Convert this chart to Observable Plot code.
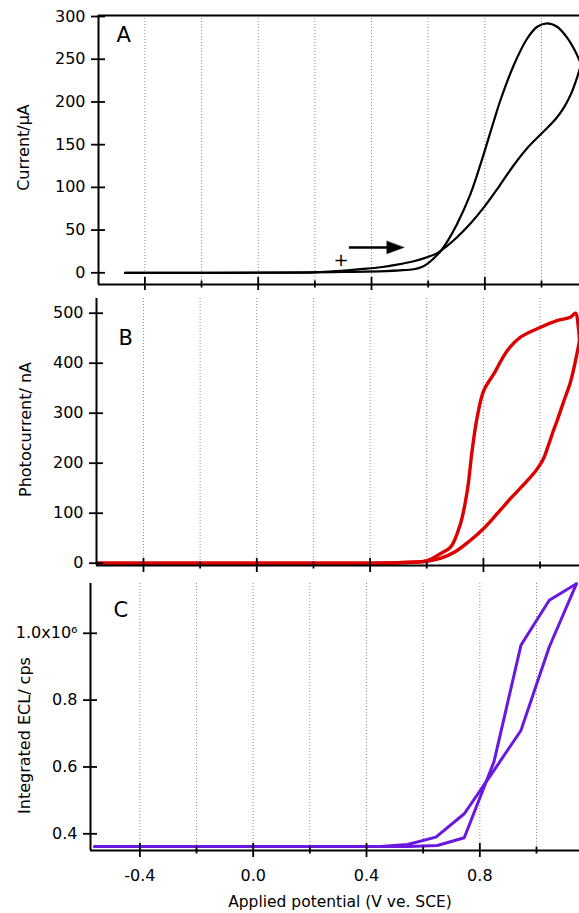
<!DOCTYPE html>
<html><head><meta charset="utf-8">
<script src="https://cdn.jsdelivr.net/npm/d3@7"></script>
<script src="https://cdn.jsdelivr.net/npm/@observablehq/plot@0.6"></script>
<style>
body{margin:0;background:#fff;}
#chart{position:relative;width:579px;height:913px;overflow:hidden;background:#fff;}
#chart svg{position:absolute;left:0;overflow:hidden;}
</style></head><body><div id="chart"></div>
<script>
// ---- tick values & labels ----
const xMajorTicks = [-0.4, 0.0, 0.4, 0.8];
const xTickLabels = ["-0.4", "0.0", "0.4", "0.8"];
const xMinorTicks = [-0.2, 0.2, 0.6, 1.0];
const xGrid = [-0.4, -0.2, 0.0, 0.2, 0.4, 0.6, 0.8, 1.0];
const currentTicks = [0, 50, 100, 150, 200, 250, 300];
const photoTicks = [0, 100, 200, 300, 400, 500];
const eclTicks = [0.4, 0.6, 0.8, 1.0];
const eclTickLabels = ["0.4", "0.6", "0.8", "1.0x10⁶"];

// ---- Panel A: cyclic voltammogram (V, µA) ----
const cvForward = [[-0.47,0],[0.1,0.2],[0.3,1],[0.45,2],[0.5,2.8],[0.549,4.2],[0.575,6.5],[0.597,10.5],[0.62,17],[0.643,25],[0.67,38],[0.702,57],[0.749,92],[0.796,139],[0.832,178],[0.855,202],[0.902,243],[0.949,274],[0.985,288],[1.02,292],[1.055,288],[1.091,275],[1.115,262],[1.14,244]];
const cvReverse = [[1.14,244],[1.125,228],[1.105,210],[1.08,194],[1.05,180],[1.0,163],[0.95,146],[0.9,125],[0.85,101],[0.8,78],[0.75,58],[0.7,41],[0.665,31],[0.632,23],[0.59,17.5],[0.549,13.5],[0.49,9.5],[0.432,6.5],[0.37,4.5],[0.314,3],[0.25,1.5],[0.195,0.6],[0.1,0.1],[-0.47,0]];
const scanArrow = [{x1: 0.320, x2: 0.514, y: 29.6}];
const scanStart = [{x: 0.292, y: 14.6, label: "+"}];

// ---- Panel B: photocurrent (V, nA) ----
const photoForward = [[-0.563,0],[0.3,0],[0.5,1],[0.601,5],[0.648,19],[0.684,32],[0.719,79],[0.743,145],[0.76,225],[0.778,292],[0.801,345],[0.837,379],[0.884,425],[0.931,452],[1.002,472],[1.06,485],[1.107,492],[1.125,500],[1.135,472],[1.139,445]];
const photoReverse = [[1.139,445],[1.125,405],[1.107,362],[1.083,323],[1.06,285],[1.045,262],[1.03,237],[1.015,213],[1.0,197],[0.985,185],[0.95,162],[0.9,132],[0.85,100],[0.8,69],[0.75,44],[0.7,23],[0.65,10],[0.6,4],[0.5,1],[0.3,0],[-0.563,0]];

// ---- Panel C: integrated ECL (V, 10^6 cps) ----
const eclForward = [[-0.56,0.362],[0.55,0.362],[0.65,0.365],[0.745,0.388],[0.85,0.616],[0.945,0.964],[1.045,1.099],[1.141,1.148]];
const eclReverse = [[1.141,1.148],[1.045,0.959],[0.945,0.709],[0.85,0.59],[0.745,0.46],[0.645,0.39],[0.545,0.368],[0.45,0.362],[-0.56,0.362]];

const FONT = "'DejaVu Sans', sans-serif";
const chart = document.getElementById("chart");
const none = () => "";

const arrowHead = {
  draw(context, l, r) {
    context.moveTo(0, -l);
    context.lineTo(r, 0);
    context.lineTo(-r, 0);
    context.closePath();
  }
};

function panel(cfg) {
  const marks = [
    Plot.ruleX(xGrid, {stroke: "#8c8c8c", strokeWidth: 1, strokeDasharray: "1,2"}),
    ...cfg.dataMarks,
    Plot.ruleX([cfg.xDomain[0]], {stroke: "black", strokeWidth: 2}),
    Plot.ruleY([cfg.yDomain[0]], {stroke: "black", strokeWidth: 2}),
    cfg.topLine ? Plot.ruleY([cfg.yDomain[1]], {stroke: "black", strokeWidth: 2}) : null,
    Plot.axisY(cfg.yTicks, {anchor: "left", tickSize: 7, tickPadding: 6, tickFormat: cfg.yFormat, fontSize: 16, strokeWidth: 1.8, label: null}),
    Plot.axisY(cfg.yTicks, {anchor: "left", tickSize: -7, tickFormat: none, strokeWidth: 1.8, label: null}),
    Plot.axisX(xMajorTicks, {anchor: "bottom", tickSize: 7, tickPadding: 12, fontSize: 16, strokeWidth: 1.8, label: null,
      tickFormat: cfg.xLabels ? (d) => xTickLabels[xMajorTicks.indexOf(d)] : none}),
    Plot.axisX(xMajorTicks, {anchor: "bottom", tickSize: -7, tickFormat: none, strokeWidth: 1.8, label: null}),
    Plot.axisX(xMinorTicks, {anchor: "bottom", tickSize: 3.5, tickFormat: none, strokeWidth: 1.8, label: null}),
    Plot.axisX(xMinorTicks, {anchor: "bottom", tickSize: -3.5, tickFormat: none, strokeWidth: 1.8, label: null}),
    Plot.text([cfg.letter], {text: (d) => d, frameAnchor: "top-left", textAnchor: "start", lineAnchor: "top", fontSize: 21, dx: cfg.letterDx, dy: cfg.letterDy}),
    Plot.text([cfg.yTitle], {text: (d) => d, frameAnchor: "left", rotate: -90, textAnchor: "middle", lineAnchor: "middle", fontSize: 16, dx: cfg.titleDx, dy: cfg.titleDy}),
    ...(cfg.extra || [])
  ].filter(Boolean);
  const svg = Plot.plot({
    width: 579, height: cfg.height,
    marginTop: cfg.marginTop, marginBottom: cfg.marginBottom, marginLeft: cfg.marginLeft, marginRight: 0,
    style: {fontFamily: FONT, fontSize: "16px", background: "white", color: "black", overflow: "hidden"},
    x: {domain: cfg.xDomain, axis: null},
    y: {domain: cfg.yDomain, axis: null},
    marks
  });
  svg.style.top = cfg.top + "px";
  chart.append(svg);
}

panel({
  top: 0, height: 292, marginTop: 15, marginBottom: 8, marginLeft: 98,
  xDomain: [-0.5637, 1.1341], yDomain: [-13.7, 301.2], topLine: true,
  yTicks: currentTicks, yFormat: (d) => String(d), xLabels: false,
  letter: "A", letterDx: 18, letterDy: 12,
  yTitle: "Current/μA", titleDx: -74.5, titleDy: -2.5,
  dataMarks: [
    Plot.line(cvForward, {x: (d) => d[0], y: (d) => d[1], curve: "catmull-rom", stroke: "black", strokeWidth: 2.2}),
    Plot.line(cvReverse, {x: (d) => d[0], y: (d) => d[1], curve: "catmull-rom", stroke: "black", strokeWidth: 2.2})
  ],
  extra: [
    Plot.link(scanArrow, {x1: "x1", x2: (d) => d.x2 - 0.03, y1: "y", y2: "y", stroke: "black", strokeWidth: 2.5}),
    Plot.vector(scanArrow, {x: "x2", y: "y", rotate: 90, length: 17, r: 6.3, anchor: "end", shape: arrowHead, fill: "black", stroke: "black", strokeWidth: 0.5}),
    Plot.text(scanStart, {x: "x", y: "y", text: "label", fontSize: 18, lineAnchor: "middle", textAnchor: "middle"})
  ]
});

panel({
  top: 290, height: 285, marginTop: 8, marginBottom: 10, marginLeft: 96,
  xDomain: [-0.5658, 1.1391], yDomain: [-4.6, 529.4], topLine: false,
  yTicks: photoTicks, yFormat: (d) => String(d), xLabels: false,
  letter: "B", letterDx: 22, letterDy: 32,
  yTitle: "Photocurrent/ nA", titleDx: -71, titleDy: -2.5,
  dataMarks: [
    Plot.line(photoForward, {x: (d) => d[0], y: (d) => d[1], curve: "catmull-rom", stroke: "#dd0000", strokeWidth: 3.4}),
    Plot.line(photoReverse, {x: (d) => d[0], y: (d) => d[1], curve: "catmull-rom", stroke: "#dd0000", strokeWidth: 3.4})
  ]
});

panel({
  top: 575, height: 338, marginTop: 8, marginBottom: 63, marginLeft: 90,
  xDomain: [-0.5743, 1.1518], yDomain: [0.35, 1.149], topLine: false,
  yTicks: eclTicks, yFormat: (d) => eclTickLabels[eclTicks.indexOf(d)], xLabels: true,
  letter: "C", letterDx: 23, letterDy: 19,
  yTitle: "Integrated ECL/ cps", titleDx: -65.5, titleDy: 18.5,
  dataMarks: [
    Plot.line(eclForward, {x: (d) => d[0], y: (d) => d[1], stroke: "#6a17e0", strokeWidth: 3}),
    Plot.line(eclReverse, {x: (d) => d[0], y: (d) => d[1], stroke: "#6a17e0", strokeWidth: 3})
  ],
  extra: [
    Plot.text(["Applied potential (V ve. SCE)"], {text: (d) => d, frameAnchor: "bottom", textAnchor: "middle", lineAnchor: "bottom", fontSize: 15.5, dx: 5, dy: 56})
  ]
});
</script></body></html>
